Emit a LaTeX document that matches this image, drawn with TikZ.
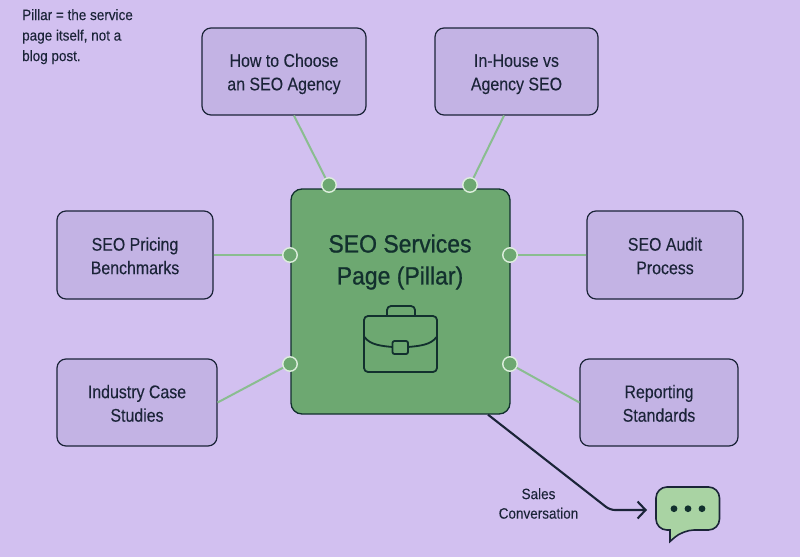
\documentclass[tikz,border=0pt]{standalone}
\usepackage{fontspec}
\setmainfont[FakeStretch=0.87,FakeBold=0.12]{Liberation Sans}
\newfontfamily\notefont[FakeStretch=0.9,FakeBold=0.12]{Liberation Sans}
\newfontfamily\titlefont[FakeStretch=0.92,FakeBold=0.8]{Liberation Sans}
\usetikzlibrary{arrows.meta,calc}
\definecolor{bgc}{HTML}{D2C0F0}
\definecolor{boxc}{HTML}{C3B3E4}
\definecolor{pillc}{HTML}{6DA871}
\definecolor{inkc}{HTML}{1B2438}
\definecolor{darkg}{HTML}{12302E}
\definecolor{linkc}{HTML}{8ABD90}
\definecolor{ringc}{HTML}{DDEEDD}
\definecolor{bubc}{HTML}{A9D3A3}
\tikzset{
  x=1pt,y=-1pt,
  topic/.style={draw=inkc,line width=1.2pt,fill=boxc,rounded corners=9pt,inner sep=0pt,align=center,
    text=inkc,font=\fontsize{18.3}{23.5}\selectfont},
  pillar/.style={draw=darkg,line width=1.3pt,fill=pillc,rounded corners=11pt,minimum width=219pt,minimum height=225pt,inner sep=0pt},
  dot/.style={circle,draw=ringc,line width=1.4pt,fill=pillc,minimum size=14.5pt,inner sep=0pt},
  link/.style={linkc,line width=2pt},
  plain/.style={inkc,align=left,inner sep=0pt},
  icon/.style={darkg,line width=1.8pt,line join=round},
}
\begin{document}
\begin{tikzpicture}
\useasboundingbox[fill=bgc] (0,0) rectangle (800,557);
% boxes
\node[topic,minimum width=164pt,minimum height=87pt] (howto) at (284,71.5) {\rule{0pt}{18pt}How to Choose\\an SEO Agency};
\node[topic,minimum width=163pt,minimum height=87pt] (inhouse) at (516.5,71.5) {\rule{0pt}{18pt}In-House vs\\Agency SEO};
\node[topic,minimum width=156pt,minimum height=88pt] (pricing) at (135,255) {\rule{0pt}{15pt}SEO Pricing\\Benchmarks};
\node[topic,minimum width=156pt,minimum height=88pt] (audit) at (665,255) {\rule{0pt}{15pt}SEO Audit\\Process};
\node[topic,minimum width=160pt,minimum height=87pt] (cases) at (137,402.5) {\rule{0pt}{15pt}Industry Case\\Studies};
\node[topic,minimum width=158pt,minimum height=87pt] (report) at (659,402.5) {\rule{0pt}{15pt}Reporting\\Standards};
\node[pillar] (pill) at (400.5,301.5) {};
\node[text=darkg,align=center,inner sep=0pt,font=\titlefont\fontsize{25}{32}\selectfont] (title) at (400,262) {SEO Services\\Page (Pillar)};
% dots and links
\node[dot] (d1) at (329,185) {};
\node[dot] (d2) at (470,185) {};
\node[dot] (d3) at (290,255) {};
\node[dot] (d4) at (510,255) {};
\node[dot] (d5) at (290,364) {};
\node[dot] (d6) at (510,364) {};
\draw[link] ([xshift=10pt]howto.south) -- (d1);
\draw[link] ([xshift=-12.5pt]inhouse.south) -- (d2);
\draw[link] (pricing.east) -- (d3);
\draw[link] (audit.west) -- (d4);
\draw[link] (cases.east) -- (d5);
\draw[link] (report.west) -- (d6);
% briefcase
\draw[icon,rounded corners=4pt] (364,316) rectangle (437,372);
\draw[icon,rounded corners=4pt] (387,316) -- (387,306) -- (415,306) -- (415,316);
\draw[icon] (364.5,337) .. controls (370,345) and (382,346) .. (392.5,347);
\draw[icon] (408,347) .. controls (419,346) and (431,345) .. (436.5,337);
\draw[icon,rounded corners=2pt] (392.5,341) rectangle (408,354);
% note
\node[plain,anchor=north west,font=\notefont\fontsize{15}{20.5}\selectfont] (note) at (22,9) {Pillar = the service\\page itself, not a\\blog post.};
% sales arrow
\coordinate (bend) at (610,510);
\coordinate (tipend) at (647,510);
\draw[inkc,line width=2.1pt,rounded corners=5pt,-{Straight Barb[length=8pt,width=17pt,line width=2.1pt]}] ([xshift=87.5pt]pill.south) -- (bend) -- (tipend);
\node[text=inkc,align=center,inner sep=0pt,font=\notefont\fontsize{15}{19.5}\selectfont] (sales) at (538.5,503.5) {Sales\\Conversation};
% bubble
\draw[fill=bubc,draw=inkc,line width=1.6pt,rounded corners=11pt,line join=miter] (656,487) -- (719.5,487) -- (719.5,530) -- (683,530) [sharp corners] -- (670,541.5) -- (670,530) [rounded corners=11pt] -- (656,530) -- cycle;
\foreach \px in {674,688,702}{\fill[darkg] (\px,508.7) circle (3.4pt);}
\end{tikzpicture}
\end{document}
